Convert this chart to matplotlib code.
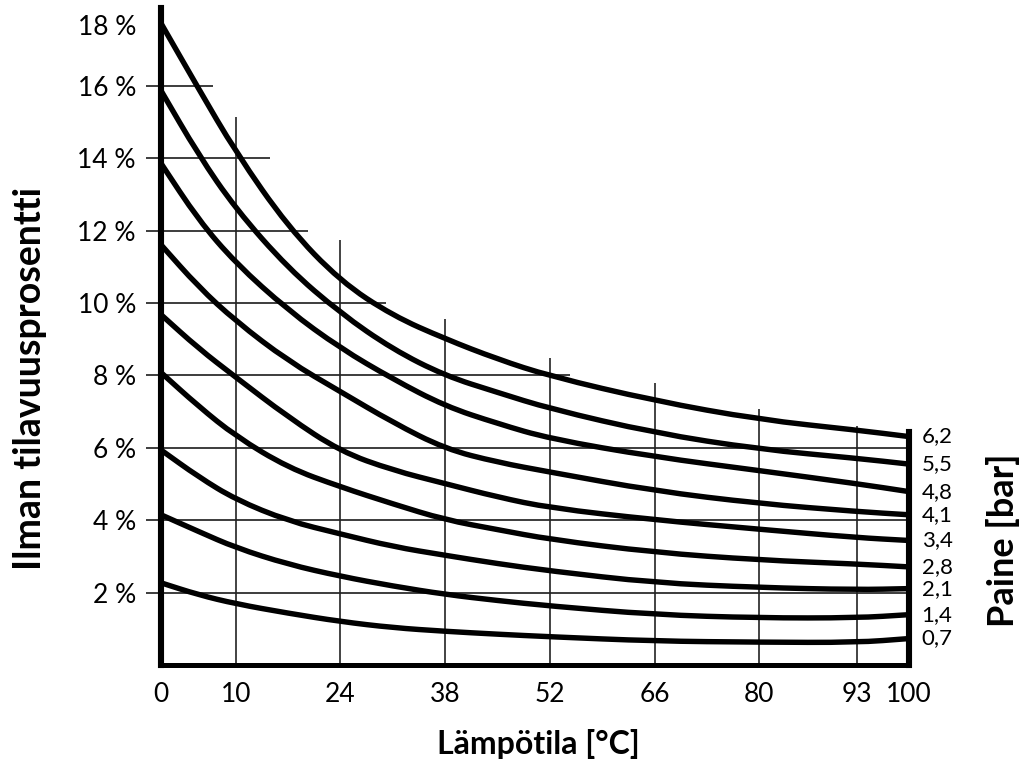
import matplotlib
matplotlib.use("Agg")
import matplotlib.pyplot as plt
from matplotlib.path import Path
from matplotlib.patches import PathPatch
from matplotlib.transforms import ScaledTranslation

plt.rcParams["font.family"] = ["Lato", "DejaVu Sans"]

# ---------------------- data ----------------------
lampotila = [0, 5, 10, 17, 24, 31, 38, 45, 52, 66, 80, 93, 100]

paine_62 = [17.73, 15.93, 14.17, 12.10, 10.60, 9.65, 9.01, 8.45, 7.98, 7.30, 6.78, 6.49, 6.31]
paine_55 = [15.87, 14.10, 12.60, 10.96, 9.72, 8.72, 7.99, 7.53, 7.08, 6.41, 5.96, 5.71, 5.55]
paine_48 = [13.86, 12.30, 11.10, 9.80, 8.75, 7.90, 7.15, 6.67, 6.25, 5.75, 5.37, 5.01, 4.79]
paine_41 = [11.61, 10.45, 9.50, 8.40, 7.55, 6.70, 5.97, 5.60, 5.33, 4.81, 4.46, 4.24, 4.15]
paine_34 = [9.68, 8.75, 7.95, 6.85, 5.90, 5.38, 5.01, 4.64, 4.34, 4.01, 3.75, 3.52, 3.44]
paine_28 = [8.08, 7.15, 6.32, 5.45, 4.92, 4.45, 4.01, 3.74, 3.47, 3.11, 2.90, 2.79, 2.71]
paine_21 = [5.94, 5.20, 4.57, 3.98, 3.62, 3.27, 3.03, 2.80, 2.60, 2.27, 2.14, 2.08, 2.11]
paine_14 = [4.15, 3.69, 3.24, 2.78, 2.45, 2.18, 1.95, 1.78, 1.63, 1.39, 1.30, 1.30, 1.39]
paine_07 = [2.27, 1.94, 1.69, 1.43, 1.20, 1.03, 0.93, 0.85, 0.78, 0.66, 0.63, 0.62, 0.73]

kayrat = [paine_62, paine_55, paine_48, paine_41, paine_34,
          paine_28, paine_21, paine_14, paine_07]
paine_nimet = ["6,2", "5,5", "4,8", "4,1", "3,4", "2,8", "2,1", "1,4", "0,7"]

x_ticks = [0, 10, 24, 38, 52, 66, 80, 93, 100]
y_ticks = [2, 4, 6, 8, 10, 12, 14, 16, 18]
y_labels = [f"{v} %" for v in y_ticks]

# grid line extents as drawn in the original
hgrid_loppu = {16: 7, 14: 14.6, 12: 19.7, 10: 30.1, 8: 54.7, 6: 100, 4: 100, 2: 100}
vgrid_ylä = {10: 15.15, 24: 11.75, 38: 9.55, 52: 8.48, 66: 7.78, 80: 7.08, 93: 6.6}


def pehmea_kayra(x, y):
    # rounded polyline: read points act as quadratic bezier control points
    p = list(zip(x, y))
    verts = [p[0], ((p[0][0] + p[1][0]) / 2, (p[0][1] + p[1][1]) / 2)]
    codes = [Path.MOVETO, Path.LINETO]
    for i in range(1, len(p) - 1):
        m = ((p[i][0] + p[i + 1][0]) / 2, (p[i][1] + p[i + 1][1]) / 2)
        verts += [p[i], m]
        codes += [Path.CURVE3, Path.CURVE3]
    verts.append(p[-1])
    codes.append(Path.LINETO)
    return Path(verts, codes)


# ---------------------- kuva ----------------------
fig = plt.figure(figsize=(10.26, 7.64), dpi=100)
ax = fig.add_axes([0.1569, 0.1296, 0.7290, 0.8599])
ax.set_xlim(0, 100)
ax.set_ylim(0, 18.15)

viiva = "#3c3c3c"
for y, x_end in hgrid_loppu.items():
    ax.hlines(y, 0, x_end, color=viiva, lw=1.4, zorder=1)
for x, y_top in vgrid_ylä.items():
    ax.vlines(x, 0, y_top, color="#222222", lw=1.2, zorder=1)

for arvot, nimi in zip(kayrat, paine_nimet):
    ax.add_patch(PathPatch(pehmea_kayra(lampotila, arvot), facecolor="none",
                           edgecolor="black", lw=3.9, capstyle="butt", zorder=3))
    ax.text(101.7, arvot[-1], nimi, fontsize=16, ha="left", va="center")

# spines
ax.spines["top"].set_visible(False)
ax.spines["left"].set_linewidth(4.4)
ax.spines["bottom"].set_linewidth(3.6)
ax.spines["right"].set_linewidth(4.4)
ax.spines["right"].set_bounds(0, 6.45)
for s in ["left", "bottom", "right"]:
    ax.spines[s].set_zorder(4)

ax.set_xticks(x_ticks)
ax.set_xticklabels([str(v) for v in x_ticks], fontsize=19)
ax.tick_params(axis="x", length=0, pad=12)
ax.set_yticks(y_ticks)
ax.set_yticklabels(y_labels, fontsize=19)
ax.tick_params(axis="y", length=11, width=1.4, color=viiva, pad=7, right=False)

# top label sits a little lower in the original and has no stub line
ylin = ax.yaxis.get_major_ticks()[-1]
ylin.tick1line.set_visible(False)
ylin.label1.set_transform(ylin.label1.get_transform()
                          + ScaledTranslation(0, -0.12, fig.dpi_scale_trans))

ax.set_xlabel("Lämpötila [°C]", fontsize=23, fontweight="bold", va="center")
ax.xaxis.set_label_coords(0.504, -0.121)
ax.set_ylabel("Ilman tilavuusprosentti", fontsize=27, fontweight="bold", va="center")
ax.yaxis.set_label_coords(-0.175, 0.436)
ax.text(1.126, 0.19, "Paine [bar]", transform=ax.transAxes, rotation=90,
        fontsize=26, fontweight="bold", ha="center", va="center")

fig.savefig("out.png", dpi=100)
